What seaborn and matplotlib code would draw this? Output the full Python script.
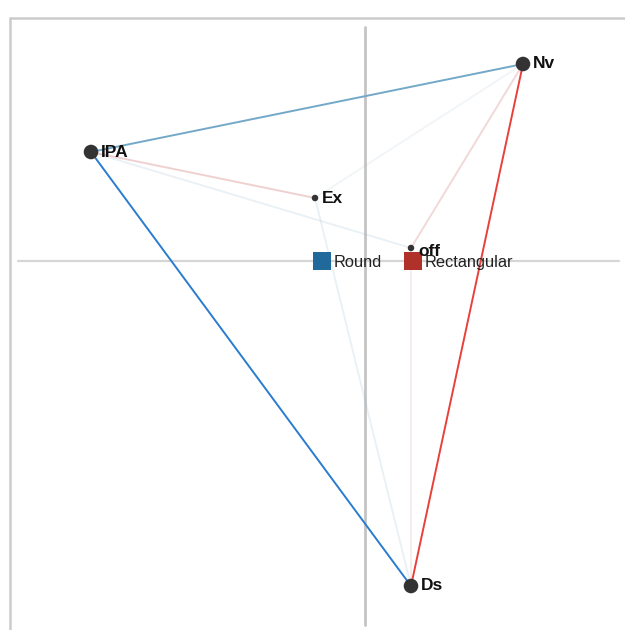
import matplotlib
matplotlib.use("Agg")
import matplotlib.pyplot as plt
import seaborn as sns
import pandas as pd

# Attribute coordinates on the two principal dimensions
attributes = ["Nv", "IPA", "Ex", "off", "Ds"]
attr_x = [1.58, -2.74, -0.50, 0.46, 0.46]
attr_y = [1.97, 1.09, 0.63, 0.13, -3.25]
attr_weight = [3, 3, 1, 1, 3]

# Category coordinates
categories = ["Round", "Rectangular"]
cat_x = [-0.43, 0.48]
cat_y = [0.0, 0.0]
cat_colors = ["#1f6a9a", "#b0302a"]

# Links between attributes: (from, to, category, strength)
link_from = ["IPA", "IPA", "IPA", "Ex", "Ex", "Nv", "IPA", "off", "off"]
link_to = ["Nv", "Ds", "off", "Nv", "Ds", "Ds", "Ex", "Nv", "Ds"]
link_cat = ["Round", "Round", "Round", "Round", "Round",
            "Rectangular", "Rectangular", "Rectangular", "Rectangular"]
link_strength = [0.55, 0.95, 0.15, 0.10, 0.15, 0.95, 0.30, 0.25, 0.12]

attr_df = pd.DataFrame({"name": attributes, "x": attr_x, "y": attr_y, "w": attr_weight})
cat_df = pd.DataFrame({"name": categories, "x": cat_x, "y": cat_y})
pos = {n: (x, y) for n, x, y in zip(attributes, attr_x, attr_y)}
line_colors = {"Round": "#2a7cd0", "Rectangular": "#e8403a"}
faint_colors = {"Round": "#8fb3c6", "Rectangular": "#d48080"}

sns.set_theme(style="white")
plt.rcParams["font.family"] = ["Liberation Sans", "DejaVu Sans"]

fig = plt.figure(figsize=(6.25, 6.3), dpi=100)
ax = fig.add_axes([0, 0, 1, 1])
ax.set_xlim(-3.65, 2.60)
ax.set_ylim(-3.69, 2.61)
ax.axis("off")

# outer frame (top and left edges)
ax.plot([-3.55, 2.60], [2.43, 2.43], color="#cccccc", lw=1.8, zorder=0)
ax.plot([-3.55, -3.55], [2.43, -3.69], color="#cccccc", lw=1.8, zorder=0)

# dimension axes through the origin
ax.plot([-3.47, 2.54], [0, 0], color="#d6d6d6", lw=1.6, zorder=1)
ax.plot([0, 0], [2.34, -3.64], color="#c4c4c4", lw=2.0, zorder=1)

# links
for a, b, c, s in zip(link_from, link_to, link_cat, link_strength):
    (x0, y0), (x1, y1) = pos[a], pos[b]
    if s >= 0.9:
        col, alpha = line_colors[c], 1.0
    elif s >= 0.5:
        col, alpha = "#74a8c8", 1.0
    else:
        col, alpha = faint_colors[c], min(1.0, s * 1.2)
    ax.plot([x0, x1], [y0, y1], color=col, alpha=alpha, lw=1.4, zorder=2,
            solid_capstyle="round")

# attribute points
sns.scatterplot(data=attr_df, x="x", y="y", size="w", sizes={1: 22, 3: 110},
                color="#333333", edgecolor="none", legend=False, ax=ax, zorder=4)
for n, x, y, w in zip(attributes, attr_x, attr_y, attr_weight):
    dx = 0.10 if w == 3 else 0.07
    dy = -0.03 if n == "off" else 0
    ax.text(x + dx, y + dy, n, fontsize=12.5, fontweight="bold",
            color="#111111", va="center", ha="left", zorder=5)

# category squares
sns.scatterplot(data=cat_df, x="x", y="y", hue="name", palette=cat_colors,
                marker="s", s=150, edgecolor="none", legend=False, ax=ax, zorder=4)
for n, x, y in zip(categories, cat_x, cat_y):
    ax.text(x + 0.12, y - 0.01, n, fontsize=11.8, color="#222222",
            va="center", ha="left", zorder=5)

fig.savefig("out.png", dpi=100, facecolor="white")
